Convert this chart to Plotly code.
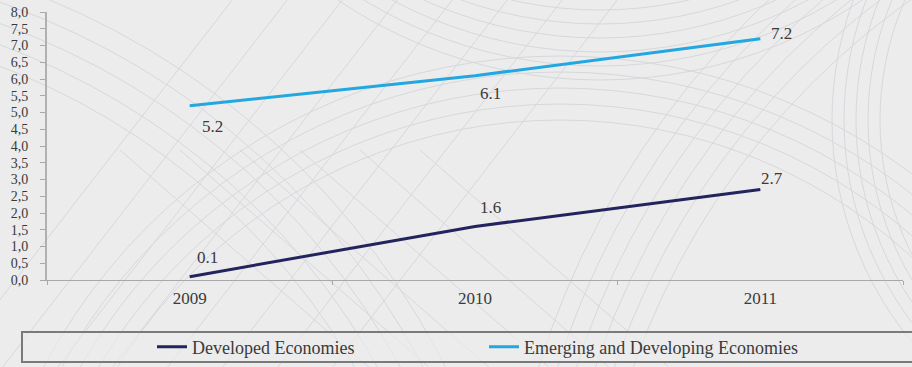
import plotly.graph_objects as go

# Series data
years = ["2009", "2010", "2011"]
developed = [0.1, 1.6, 2.7]
emerging = [5.2, 6.1, 7.2]
developed_labels = ["0.1", "1.6", "2.7"]
emerging_labels = ["5.2", "6.1", "7.2"]
y_ticks = [i * 0.5 for i in range(17)]

W, H = 912, 367
ML, MR, MT, MB = 47, 9, 12, 87
PW, PH = W - ML - MR, H - MT - MB

BG = "#ececec"
DARK = "#23235e"
LIGHT = "#22a7e0"
PATTERN = "#d6d8dc"
TEXT = "#3a3a3a"
SERIF = "Liberation Serif, DejaVu Serif, serif"
FS = 17

fig = go.Figure()

fig.add_trace(go.Scatter(
    x=years, y=developed, mode="lines", name="Developed Economies",
    line=dict(color=DARK, width=3),
))
fig.add_trace(go.Scatter(
    x=years, y=emerging, mode="lines", name="Emerging and Developing Economies",
    line=dict(color=LIGHT, width=3),
))

# Value labels, offset from each point in pixels (x given as category index)
annotations = []
dev_shift = [(18, 19), (15, 19), (12, 11)]
emg_shift = [(23, -21), (15, -18), (21, 5)]
for i, (v, t, (dx, dy)) in enumerate(zip(developed, developed_labels, dev_shift)):
    annotations.append(dict(x=i, y=v, xref="x", yref="y", text=t, showarrow=False,
                            xshift=dx, yshift=dy, font=dict(family=SERIF, size=FS, color=TEXT)))
for i, (v, t, (dx, dy)) in enumerate(zip(emerging, emerging_labels, emg_shift)):
    annotations.append(dict(x=i, y=v, xref="x", yref="y", text=t, showarrow=False,
                            xshift=dx, yshift=dy, font=dict(family=SERIF, size=FS, color=TEXT)))


def px_to_paper(px, py):
    return (px - ML) / PW, (H - MB - py) / PH


def circle_shape(cx, cy, r):
    x0, y0 = px_to_paper(cx - r, cy + r)
    x1, y1 = px_to_paper(cx + r, cy - r)
    return dict(type="circle", xref="paper", yref="paper", x0=x0, y0=y0, x1=x1, y1=y1,
                line=dict(color=PATTERN, width=1), layer="below")


shapes = []
# Decorative wallpaper: families of large arcs and diagonal strokes
for r in range(400, 480, 14):
    shapes.append(circle_shape(600, -390, r))
for r in range(760, 860, 18):
    shapes.append(circle_shape(1350, 620, r))
for r in range(700, 800, 20):
    shapes.append(circle_shape(-250, 720, r))
for r in range(520, 600, 16):
    shapes.append(circle_shape(560, 640, r))
for r in range(300, 360, 12):
    shapes.append(circle_shape(1180, 120, r))
for k in range(8):
    x0p, y0p = px_to_paper(-60 + k * 55, H + 10)
    x1p, y1p = px_to_paper(240 + k * 55, -10)
    shapes.append(dict(type="line", xref="paper", yref="paper", x0=x0p, y0=y0p, x1=x1p, y1=y1p,
                       line=dict(color=PATTERN, width=1), layer="below"))
for k in range(6):
    x0p, y0p = px_to_paper(380 + k * 60, H + 10)
    x1p, y1p = px_to_paper(120 + k * 60, 150)
    shapes.append(dict(type="line", xref="paper", yref="paper", x0=x0p, y0=y0p, x1=x1p, y1=y1p,
                       line=dict(color=PATTERN, width=1), layer="below"))

# Legend frame
lx0, ly0 = px_to_paper(22, 362)
lx1, ly1 = px_to_paper(W + 5, 332)
shapes.append(dict(type="rect", xref="paper", yref="paper", x0=lx0, y0=ly0, x1=lx1, y1=ly1,
                   line=dict(color="#7a7a7a", width=2), fillcolor="rgba(236,236,236,0.6)",
                   layer="below"))

leg_x, leg_y = px_to_paper(152, 347)

fig.update_layout(
    width=W, height=H,
    margin=dict(l=ML, r=MR, t=MT, b=MB, autoexpand=False),
    paper_bgcolor=BG, plot_bgcolor="rgba(0,0,0,0)",
    font=dict(family=SERIF, size=FS, color=TEXT),
    separators=",.",
    shapes=shapes,
    annotations=annotations,
    showlegend=True,
    legend=dict(
        orientation="h", x=leg_x, y=leg_y, xanchor="left", yanchor="middle",
        bgcolor="rgba(0,0,0,0)", font=dict(family=SERIF, size=18, color=TEXT),
        entrywidth=287, entrywidthmode="pixels", traceorder="normal",
    ),
    xaxis=dict(
        type="category", range=[-0.5, 2.5], showgrid=False, zeroline=False,
        showline=True, linecolor="#a8a8a8", linewidth=1,
        ticks="outside", ticklen=4, tickcolor="#a8a8a8", tickson="boundaries",
        ticklabelstandoff=3,
        tickfont=dict(family=SERIF, size=FS, color=TEXT),
    ),
    yaxis=dict(
        range=[0, 8], tickvals=y_ticks, tickformat=".1f", showgrid=False, zeroline=False,
        showline=True, linecolor="#b0b0b0", linewidth=2,
        ticks="outside", ticklen=5, tickcolor="#a8a8a8",
        ticklabelstandoff=9,
        tickfont=dict(family=SERIF, size=14, color=TEXT),
    ),
)

fig.write_html("out.html")
